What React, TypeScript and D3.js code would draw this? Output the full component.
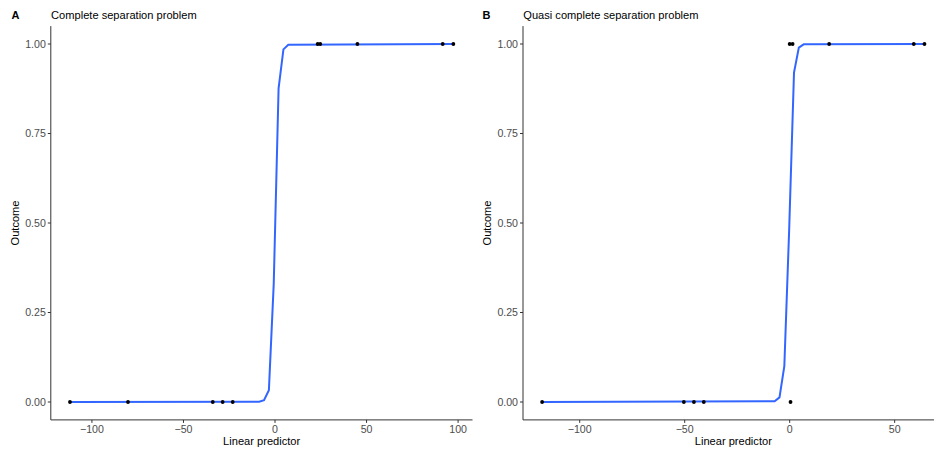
import React from "react";
import * as d3 from "d3";

// ---- data ----
const yTicks = [0, 0.25, 0.5, 0.75, 1];
const xTicksA = [-100, -50, 0, 50, 100];
const xTicksB = [-100, -50, 0, 50];

// Panel A: complete separation
const aZeroX = [-112.0, -80.3, -34.0, -28.6, -23.1];
const aOneX = [23.3, 24.7, 45.0, 91.6, 97.4];
const aCurveX = [-112.0, -8.65, -6.0, -3.35, -0.7, 1.95, 4.6, 7.25, 97.4];
const aCurveY = [0, 0.001, 0.005, 0.033, 0.33, 0.876, 0.985, 0.998, 1];

// Panel B: quasi complete separation
const bZeroX = [-117.9, -50.4, -45.6, -40.9, 0.4];
const bOneX = [0.0, 1.4, 18.8, 59.1, 64.2];
const bCurveX = [-117.9, -7.16, -4.85, -2.55, -0.25, 2.06, 4.36, 6.67, 64.2];
const bCurveY = [0, 0.002, 0.013, 0.1, 0.48, 0.92, 0.99, 0.999, 1];

const FONT = "'Liberation Sans', Arial, Helvetica, sans-serif";

type PanelProps = {
  label: string;
  title: string;
  zeroX: number[];
  oneX: number[];
  curveX: number[];
  curveY: number[];
  xTicks: number[];
  left: number;
  right: number;
  labelX: number;
};

const TOP = 26.1;
const BOTTOM = 419.9;

function fmtX(v: number) {
  return v < 0 ? "\u2212" + Math.abs(v) : String(v);
}

function Panel(p: PanelProps) {
  const allX = [...p.zeroX, ...p.oneX];
  const [mn, mx] = d3.extent(allX) as [number, number];
  const pad = (mx - mn) * 0.05;
  const x = d3.scaleLinear().domain([mn - pad, mx + pad]).range([p.left, p.right]);
  const y = d3.scaleLinear().domain([-0.05, 1.05]).range([BOTTOM, TOP]);
  const line = d3
    .line<number>()
    .x((_, i) => x(p.curveX[i]))
    .y((d) => y(d));
  const pts = [
    ...p.zeroX.map((v) => ({ x: v, y: 0 })),
    ...p.oneX.map((v) => ({ x: v, y: 1 })),
  ];
  const midX = (p.left + p.right) / 2;
  const midY = (TOP + BOTTOM) / 2;
  return (
    <g>
      <text x={p.labelX} y={18.5} fontFamily={FONT} fontWeight="bold" fontSize={11} fill="#000">
        {p.label}
      </text>
      <text x={p.left + 0.3} y={18.5} fontFamily={FONT} fontSize={11.1} fill="#000">
        {p.title}
      </text>
      {/* axes */}
      <line x1={p.left} x2={p.left} y1={TOP} y2={BOTTOM} stroke="#333" strokeWidth={1} />
      <line x1={p.left} x2={p.right} y1={BOTTOM} y2={BOTTOM} stroke="#333" strokeWidth={1} />
      {yTicks.map((t) => (
        <g key={"y" + t}>
          <line x1={p.left - 3} x2={p.left} y1={y(t)} y2={y(t)} stroke="#333" />
          <text
            x={p.left - 5}
            y={y(t)}
            dy="0.36em"
            textAnchor="end"
            fontFamily={FONT}
            fontSize={10.6}
            fill="#4d4d4d"
          >
            {t.toFixed(2)}
          </text>
        </g>
      ))}
      {p.xTicks.map((t) => (
        <g key={"x" + t}>
          <line x1={x(t)} x2={x(t)} y1={BOTTOM} y2={BOTTOM + 3} stroke="#333" />
          <text
            x={x(t)}
            y={BOTTOM + 13.3}
            textAnchor="middle"
            fontFamily={FONT}
            fontSize={10.6}
            fill="#4d4d4d"
          >
            {fmtX(t)}
          </text>
        </g>
      ))}
      <text x={midX} y={444.5} textAnchor="middle" fontFamily={FONT} fontSize={11.1} fill="#000">
        Linear predictor
      </text>
      <text
        transform={`translate(${p.left - 32},${midY}) rotate(-90)`}
        textAnchor="middle"
        fontFamily={FONT}
        fontSize={11.1}
        fill="#000"
      >
        Outcome
      </text>
      <path d={line(p.curveY) || ""} fill="none" stroke="#3366FF" strokeWidth={2} />
      {pts.map((d, i) => (
        <circle key={i} cx={x(d.x)} cy={y(d.y)} r={1.9} fill="#000" />
      ))}
    </g>
  );
}

export default function App() {
  return (
    <svg
      width={934}
      height={449}
      style={{ position: "fixed", left: 0, top: 0, background: "#fff" }}
    >
      <rect x={0} y={0} width={934} height={449} fill="#fff" />
      <Panel
        label="A"
        title="Complete separation problem"
        zeroX={aZeroX}
        oneX={aOneX}
        curveX={aCurveX}
        curveY={aCurveY}
        xTicks={xTicksA}
        left={50.8}
        right={472.5}
        labelX={11.5}
      />
      <Panel
        label="B"
        title="Quasi complete separation problem"
        zeroX={bZeroX}
        oneX={bOneX}
        curveX={bCurveX}
        curveY={bCurveY}
        xTicks={xTicksB}
        left={523}
        right={943.6}
        labelX={482.5}
      />
    </svg>
  );
}
